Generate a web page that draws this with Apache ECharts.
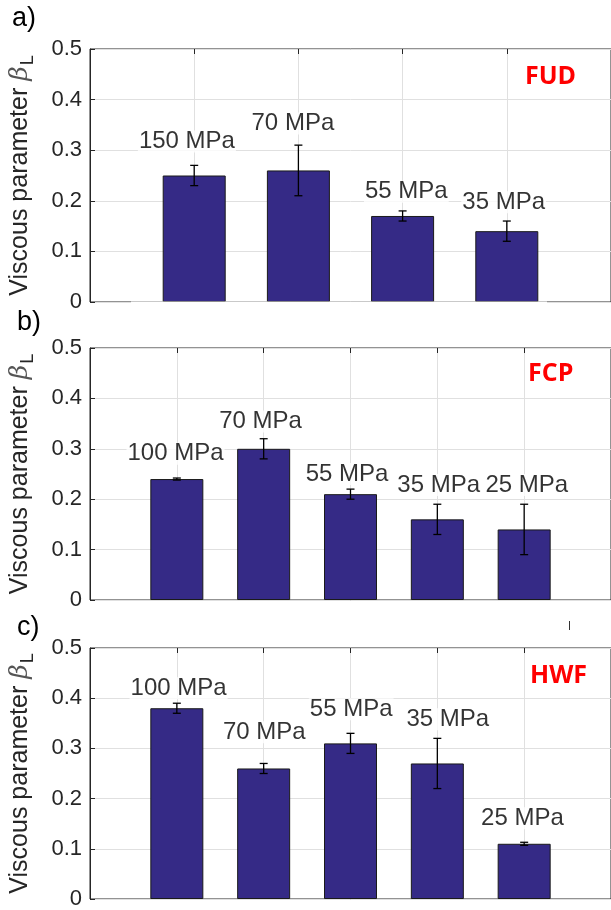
<!DOCTYPE html>
<html>
<head>
<meta charset="utf-8">
<script src="https://cdn.jsdelivr.net/npm/echarts@6/dist/echarts.min.js"></script>
<style>
html,body{margin:0;padding:0;background:#fff;}
#chart{width:611px;height:910px;}
</style>
</head>
<body>
<div id="chart"></div>
<script>
// ---- data ----
var yTicks = [0, 0.1, 0.2, 0.3, 0.4, 0.5];
var panelTags = ['a)', 'b)', 'c)'];
var panelNames = ['FUD', 'FCP', 'HWF'];
var yAxisTitle = 'Viscous parameter';

var catsA = ['150 MPa', '70 MPa', '55 MPa', '35 MPa'];
var valsA = [0.25, 0.26, 0.17, 0.14];
var errA  = [0.02, 0.05, 0.01, 0.02];
var labXA = [0.93, 1.947, 3.036, 3.97];
var labYA = [0.317, 0.353, 0.218, 0.197];

var catsB = ['100 MPa', '70 MPa', '55 MPa', '35 MPa', '25 MPa'];
var valsB = [0.24, 0.30, 0.21, 0.16, 0.14];
var errB  = [0.002, 0.02, 0.01, 0.03, 0.05];
var labXB = [0.985, 1.964, 2.96, 4.015, 5.03];
var labYB = [0.29, 0.354, 0.25, 0.228, 0.228];

var catsC = ['100 MPa', '70 MPa', '55 MPa', '35 MPa', '25 MPa'];
var valsC = [0.38, 0.26, 0.31, 0.27, 0.11];
var errC  = [0.01, 0.01, 0.02, 0.05, 0.003];
var labXC = [1.02, 2.007, 3.008, 4.12, 4.98];
var labYC = [0.42, 0.332, 0.378, 0.358, 0.161];

var panels = [
  {cats: catsA, vals: valsA, err: errA, lx: labXA, ly: labYA},
  {cats: catsB, vals: valsB, err: errB, lx: labXB, ly: labYB},
  {cats: catsC, vals: valsC, err: errC, lx: labXC, ly: labYC}
];

// ---- layout / style ----
var FONT = 'Liberation Sans';
var grids = [
  {left: 90, top: 49, width: 527, height: 253},
  {left: 90, top: 348, width: 528, height: 252},
  {left: 90, top: 648, width: 528, height: 251}
];
var tagPos = [[12, 5], [17, 309], [17, 614]];
var namePos = [[525, 64], [528, 361], [530, 663]];
var barWidths = [63, 53, 53];
var BAR = '#352A86';
var AX = '#262626';
var GRID = '#e0e0e0';

var option = {
  animation: false,
  backgroundColor: '#fff',
  grid: [], xAxis: [], yAxis: [], series: [], graphic: []
};

panels.forEach(function (p, i) {
  var g = grids[i];
  option.grid.push({left: g.left, top: g.top, width: g.width, height: g.height,
    show: true, borderColor: AX, borderWidth: 1, backgroundColor: 'transparent'});
  var n = p.vals.length + 1;
  option.xAxis.push({type: 'value', gridIndex: i, min: 0, max: n, interval: 1,
    axisLine: {show: false}, axisTick: {show: false}, axisLabel: {show: false},
    splitLine: {show: true, lineStyle: {color: GRID, width: 1}}});
  option.xAxis.push({type: 'value', gridIndex: i, position: 'top', min: 0, max: n, interval: 1,
    axisLine: {show: false}, axisTick: {show: true, inside: true, length: 5, lineStyle: {color: AX}},
    axisLabel: {show: false}, splitLine: {show: false}});
  option.yAxis.push({type: 'value', gridIndex: i, min: 0, max: 0.5, interval: 0.1,
    axisLine: {show: true, lineStyle: {color: AX, width: 1}},
    axisTick: {show: true, inside: true, length: 5, lineStyle: {color: AX}},
    axisLabel: {color: AX, fontSize: 22, fontFamily: FONT, margin: 8,
      formatter: function (v) { var r = +(+v).toFixed(1); return yTicks.indexOf(r) >= 0 ? String(r) : ''; }},
    splitLine: {show: true, lineStyle: {color: GRID, width: 1}},
    name: '{t|' + yAxisTitle + ' }{b|β}{s|L}',
    nameLocation: 'middle', nameRotate: 90, nameGap: 53,
    nameTextStyle: {
      color: AX, fontFamily: FONT,
      rich: {
        t: {fontSize: 25, fontFamily: FONT, color: AX},
        b: {fontSize: 25, fontFamily: 'DejaVu Serif', fontStyle: 'italic', color: '#555'},
        s: {fontSize: 18, fontFamily: FONT, color: AX, padding: [15, 0, 0, 1]}
      }
    }
  });
  var xi = i * 2;
  option.series.push({
    type: 'bar', xAxisIndex: xi, yAxisIndex: i, barWidth: barWidths[i],
    itemStyle: {color: BAR, borderColor: '#1a1a1a', borderWidth: 1},
    data: p.vals.map(function (v, k) { return [k + 1, v]; }), z: 2
  });
  option.series.push({
    type: 'scatter', xAxisIndex: xi, yAxisIndex: i, symbolSize: 0, z: 3,
    data: p.cats.map(function (c, k) { return {value: [p.lx[k], p.ly[k]], name: c}; }),
    label: {show: true, position: 'inside', formatter: '{b}', color: '#000',
      fontSize: 24, fontFamily: FONT, backgroundColor: '#fff', padding: [0, 1], lineHeight: 22}
  });
  option.series.push({
    type: 'custom', xAxisIndex: xi, yAxisIndex: i, z: 4,
    data: p.vals.map(function (v, k) { return [k + 1, v, p.err[k]]; }),
    renderItem: function (params, api) {
      var x = api.value(0), y = api.value(1), e = api.value(2);
      var lo = api.coord([x, y - e]), hi = api.coord([x, y + e]);
      var c = 4;
      var st = {stroke: '#000', lineWidth: 1.3};
      return {type: 'group', children: [
        {type: 'line', shape: {x1: lo[0], y1: lo[1], x2: hi[0], y2: hi[1]}, style: st},
        {type: 'line', shape: {x1: lo[0] - c, y1: lo[1], x2: lo[0] + c, y2: lo[1]}, style: st},
        {type: 'line', shape: {x1: hi[0] - c, y1: hi[1], x2: hi[0] + c, y2: hi[1]}, style: st}
      ]};
    }
  });
  option.graphic.push({type: 'text', left: tagPos[i][0], top: tagPos[i][1],
    style: {text: panelTags[i], fontSize: 27, fontFamily: FONT, fill: '#000'}});
  option.graphic.push({type: 'text', left: namePos[i][0], top: namePos[i][1],
    style: {text: panelNames[i], fontSize: 25, fontWeight: 'bold', fontFamily: 'Open Sans', fill: '#ff0000'}});
});

// gap in panel a bottom line
option.graphic.push({type: 'rect', shape: {x: 131, y: 301.5, width: 416, height: 4}, style: {fill: '#fff'}, z: 100});
// stray tick mark between b and c
option.graphic.push({type: 'line', shape: {x1: 569.5, y1: 621, x2: 569.5, y2: 630}, style: {stroke: '#333', lineWidth: 1}});

var chart = echarts.init(document.getElementById('chart'), null, {renderer: 'canvas'});
chart.setOption(option);
</script>
</body>
</html>
